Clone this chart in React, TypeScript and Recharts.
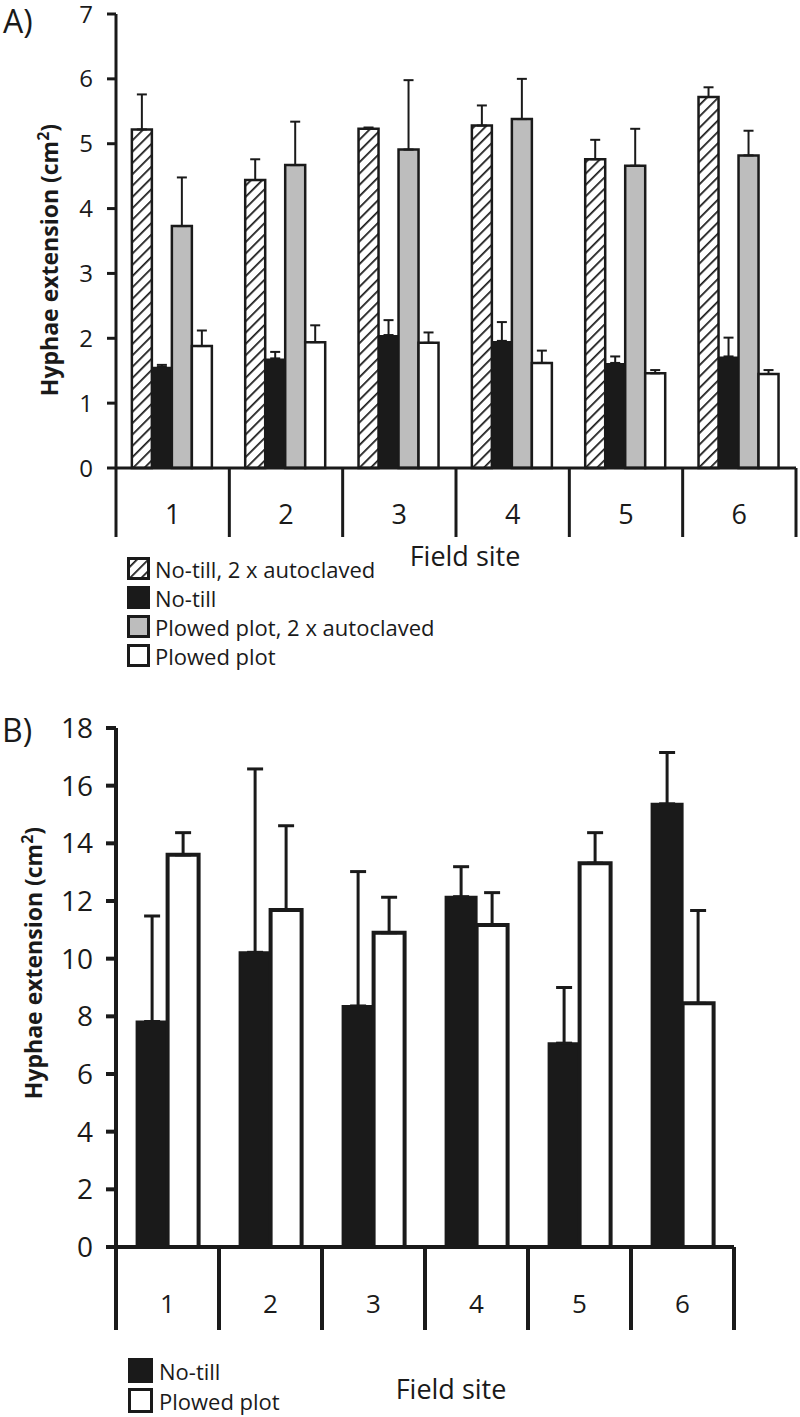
import { BarChart, Bar, XAxis, YAxis, ErrorBar } from 'recharts'

const sites = ['1', '2', '3', '4', '5', '6']

// Panel A: means and upper SE
const noTillAuto = [5.22, 4.44, 5.23, 5.28, 4.76, 5.72]
const noTillAutoSe = [0.54, 0.32, 0.02, 0.31, 0.3, 0.15]
const noTill = [1.56, 1.69, 2.05, 1.96, 1.62, 1.72]
const noTillSe = [0.03, 0.1, 0.23, 0.29, 0.1, 0.29]
const plowedAuto = [3.73, 4.67, 4.91, 5.38, 4.66, 4.82]
const plowedAutoSe = [0.75, 0.67, 1.07, 0.62, 0.57, 0.38]
const plowed = [1.88, 1.94, 1.93, 1.62, 1.46, 1.45]
const plowedSe = [0.24, 0.26, 0.16, 0.19, 0.05, 0.06]

// Panel B
const noTillB = [7.82, 10.22, 8.36, 12.15, 7.07, 15.37]
const noTillBSe = [3.66, 6.36, 4.66, 1.04, 1.93, 1.78]
const plowedB = [13.6, 11.69, 10.9, 11.17, 13.31, 8.45]
const plowedBSe = [0.77, 2.92, 1.23, 1.12, 1.06, 3.22]

const ticksA = [0, 1, 2, 3, 4, 5, 6, 7]
const ticksB = [0, 2, 4, 6, 8, 10, 12, 14, 16, 18]

const legendA = ['No-till, 2 x autoclaved', 'No-till', 'Plowed plot, 2 x autoclaved', 'Plowed plot']
const legendB = ['No-till', 'Plowed plot']

const dataA = sites.map((site, i) => ({
  site,
  nta: noTillAuto[i],
  ntaErr: [0, noTillAutoSe[i]],
  nt: noTill[i],
  ntErr: [0, noTillSe[i]],
  pa: plowedAuto[i],
  paErr: [0, plowedAutoSe[i]],
  p: plowed[i],
  pErr: [0, plowedSe[i]],
}))

const dataB = sites.map((site, i) => ({
  site,
  nt: noTillB[i],
  ntErr: [0, noTillBSe[i]],
  p: plowedB[i],
  pErr: [0, plowedBSe[i]],
}))

const INK = '#1a1a1a'
const GREY = '#bdbdbd'
const FONT = "'Open Sans', sans-serif"

function SiteTick(props: any) {
  const { x, y, payload, index, band, drop, labelDy, fontSize, count, sw } = props
  return (
    <g>
      <line x1={x - band / 2} x2={x - band / 2} y1={y} y2={y + drop} stroke={INK} strokeWidth={sw} />
      {index === count - 1 && (
        <line x1={x + band / 2} x2={x + band / 2} y1={y} y2={y + drop} stroke={INK} strokeWidth={sw} />
      )}
      <text
        x={x}
        y={y + labelDy}
        textAnchor="middle"
        dominantBaseline="central"
        fontSize={fontSize}
        fontFamily={FONT}
        fill={INK}
      >
        {payload.value}
      </text>
    </g>
  )
}

function Swatch({ kind, size }: { kind: string; size: number }) {
  return (
    <svg width={size} height={size} style={{ display: 'block' }}>
      <defs>
        <pattern id="hatchLeg" patternUnits="userSpaceOnUse" width="8" height="8" patternTransform="rotate(45)">
          <rect width="8" height="8" fill="#fff" />
          <line x1="0" y1="0" x2="0" y2="8" stroke={INK} strokeWidth="3.5" />
        </pattern>
      </defs>
      <rect
        x={1.5}
        y={1.5}
        width={size - 3}
        height={size - 3}
        fill={kind === 'hatch' ? 'url(#hatchLeg)' : kind === 'black' ? INK : kind === 'grey' ? GREY : '#fff'}
        stroke={INK}
        strokeWidth={3}
      />
    </svg>
  )
}

function YTitle({ left, top }: { left: number; top: number }) {
  return (
    <div
      style={{
        position: 'absolute',
        left,
        top,
        transform: 'translate(-50%, -50%) rotate(-90deg)',
        whiteSpace: 'nowrap',
        fontFamily: FONT,
        fontWeight: 700,
        fontSize: 23,
        color: INK,
        lineHeight: 1,
      }}
    >
      Hyphae extension (cm<sup style={{ fontSize: 16 }}>2</sup>)
    </div>
  )
}

export default function App() {
  const bandA = (796 - 116) / sites.length
  const bandB = (734 - 116) / sites.length
  const kindsA = ['hatch', 'black', 'grey', 'white']
  const kindsB = ['black', 'white']

  return (
    <div style={{ position: 'absolute', left: 0, top: 0, width: 800, height: 1417, background: '#fff', fontFamily: FONT }}>
      {/* Panel A */}
      <div style={{ position: 'absolute', left: 3, top: 5, fontSize: 32, lineHeight: 1, fontFamily: FONT, color: INK }}>A)</div>
      <div style={{ position: 'absolute', left: 0, top: 0 }}>
        <BarChart
          width={800}
          height={545}
          data={dataA}
          margin={{ top: 14, right: 4, left: 0, bottom: 0 }}
          barCategoryGap="14%"
          barGap={0}
          style={{ overflow: 'visible' }}
        >
          <defs>
            <pattern id="hatchA" patternUnits="userSpaceOnUse" width="8" height="8" patternTransform="rotate(45)">
              <rect width="8" height="8" fill="#fff" />
              <line x1="0" y1="0" x2="0" y2="8" stroke={INK} strokeWidth="3.5" />
            </pattern>
          </defs>
          <XAxis
            dataKey="site"
            height={77}
            interval={0}
            tickLine={false}
            tickSize={0}
            tickMargin={0}
            axisLine={{ stroke: INK, strokeWidth: 3 }}
            tick={(p: any) => (
              <SiteTick {...p} band={bandA} drop={69} labelDy={45} fontSize={27} count={sites.length} sw={3} />
            )}
          />
          <YAxis
            width={116}
            domain={[0, 7]}
            ticks={ticksA}
            interval={0}
            tickSize={9}
            tickMargin={14}
            axisLine={{ stroke: INK, strokeWidth: 3 }}
            tickLine={{ stroke: INK, strokeWidth: 3 }}
            tick={{ fontSize: 24, fill: INK, fontFamily: FONT }}
          />
          <Bar dataKey="nta" fill="url(#hatchA)" stroke={INK} strokeWidth={2.5} isAnimationActive={false}>
            <ErrorBar dataKey="ntaErr" direction="y" width={5} stroke={INK} strokeWidth={2} />
          </Bar>
          <Bar dataKey="nt" fill={INK} isAnimationActive={false}>
            <ErrorBar dataKey="ntErr" direction="y" width={5} stroke={INK} strokeWidth={2} />
          </Bar>
          <Bar dataKey="pa" fill={GREY} stroke={INK} strokeWidth={2.5} isAnimationActive={false}>
            <ErrorBar dataKey="paErr" direction="y" width={5} stroke={INK} strokeWidth={2} />
          </Bar>
          <Bar dataKey="p" fill="#fff" stroke={INK} strokeWidth={2.5} isAnimationActive={false}>
            <ErrorBar dataKey="pErr" direction="y" width={5} stroke={INK} strokeWidth={2} />
          </Bar>
        </BarChart>
      </div>
      <YTitle left={48} top={260} />
      <div style={{ position: 'absolute', left: 465, top: 555, transform: 'translate(-50%, -50%)', fontSize: 27, color: INK, whiteSpace: 'nowrap' }}>
        Field site
      </div>
      {legendA.map((name, i) => (
        <div
          key={name}
          style={{ position: 'absolute', left: 127, top: 557 + i * 29, height: 23, display: 'flex', alignItems: 'center', gap: 5 }}
        >
          <Swatch kind={kindsA[i]} size={23} />
          <span style={{ fontSize: 22, color: INK, whiteSpace: 'nowrap', lineHeight: 1 }}>{name}</span>
        </div>
      ))}

      {/* Panel B */}
      <div style={{ position: 'absolute', left: 2, top: 714, fontSize: 32, lineHeight: 1, fontFamily: FONT, color: INK }}>B)</div>
      <div style={{ position: 'absolute', left: 0, top: 700 }}>
        <BarChart
          width={800}
          height={645}
          data={dataB}
          margin={{ top: 28, right: 66, left: 0, bottom: 0 }}
          barCategoryGap="20%"
          barGap={0}
          style={{ overflow: 'visible' }}
        >
          <XAxis
            dataKey="site"
            height={98}
            interval={0}
            tickLine={false}
            tickSize={0}
            tickMargin={0}
            axisLine={{ stroke: INK, strokeWidth: 4 }}
            tick={(p: any) => (
              <SiteTick {...p} band={bandB} drop={83} labelDy={56} fontSize={26} count={sites.length} sw={4} />
            )}
          />
          <YAxis
            width={116}
            domain={[0, 18]}
            ticks={ticksB}
            interval={0}
            tickSize={10}
            tickMargin={13}
            axisLine={{ stroke: INK, strokeWidth: 4 }}
            tickLine={{ stroke: INK, strokeWidth: 4 }}
            tick={{ fontSize: 28, fill: INK, fontFamily: FONT }}
          />
          <Bar dataKey="nt" fill={INK} stroke={INK} strokeWidth={2} isAnimationActive={false}>
            <ErrorBar dataKey="ntErr" direction="y" width={8} stroke={INK} strokeWidth={3} />
          </Bar>
          <Bar dataKey="p" fill="#fff" stroke={INK} strokeWidth={4} isAnimationActive={false}>
            <ErrorBar dataKey="pErr" direction="y" width={8} stroke={INK} strokeWidth={3} />
          </Bar>
        </BarChart>
      </div>
      <YTitle left={32} top={963} />
      <div style={{ position: 'absolute', left: 451, top: 1388, transform: 'translate(-50%, -50%)', fontSize: 27, color: INK, whiteSpace: 'nowrap' }}>
        Field site
      </div>
      {legendB.map((name, i) => (
        <div
          key={name}
          style={{ position: 'absolute', left: 128, top: 1358 + i * 30, height: 25, display: 'flex', alignItems: 'center', gap: 6 }}
        >
          <Swatch kind={kindsB[i]} size={25} />
          <span style={{ fontSize: 22, color: INK, whiteSpace: 'nowrap', lineHeight: 1 }}>{name}</span>
        </div>
      ))}
    </div>
  )
}
